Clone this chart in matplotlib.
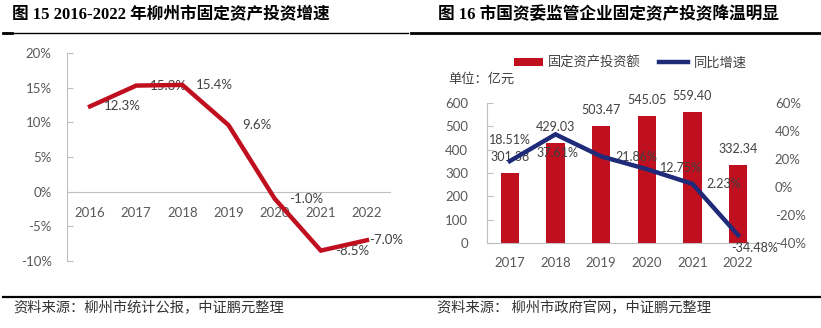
import matplotlib
matplotlib.use('Agg')
import matplotlib.pyplot as plt
from matplotlib.lines import Line2D
from matplotlib.patches import Patch
import numpy as np

# ---------------- data ----------------
years_left = ['2016', '2017', '2018', '2019', '2020', '2021', '2022']
growth_left = [12.3, 15.3, 15.4, 9.6, -1.0, -8.5, -7.0]
left_yticks = [-10, -5, 0, 5, 10, 15, 20]

years_right = ['2017', '2018', '2019', '2020', '2021', '2022']
invest = [301.38, 429.03, 503.47, 545.05, 559.40, 332.34]
yoy = [18.51, 37.61, 21.86, 12.75, 2.23, -34.48]
right_yticks = [0, 100, 200, 300, 400, 500, 600]
right_y2ticks = [-40, -20, 0, 20, 40, 60]

title_left = '图 15 2016-2022 年柳州市固定资产投资增速'
title_right = '图 16 市国资委监管企业固定资产投资降温明显'
source_left = '资料来源：柳州市统计公报，中证鹏元整理'
source_right = '资料来源： 柳州市政府官网，中证鹏元整理'
legend_labels = ['固定资产投资额', '同比增速']
unit_label = '单位：亿元'

# ---------------- style ----------------
plt.rcParams['font.family'] = ['Lato', 'Noto Sans CJK SC', 'DejaVu Sans']
plt.rcParams['axes.unicode_minus'] = False

RED = '#C00F1E'
NAVY = '#1F2A78'
GRID = '#BFBFBF'
TXT = '#595959'
LBL = '#404040'

W, H = 821, 328
fig = plt.figure(figsize=(W / 100, H / 100), dpi=100)


def fx(px):
    return px / W


def fy(py):
    return 1 - py / H


# ---------------- left chart ----------------
axL = fig.add_axes([fx(67), fy(261), (390 - 67) / W, (261 - 53) / H])
xl = np.arange(len(years_left))
axL.plot(xl, growth_left, color=RED, lw=3.2, solid_joinstyle='miter', zorder=3)
axL.set_xlim(-0.5, len(years_left) - 0.5)
axL.set_ylim(-10, 20)
axL.set_yticks(left_yticks)
axL.set_yticklabels([f'{v}%' for v in left_yticks])
axL.set_xticks(xl)
axL.set_xticklabels(years_left)
for s in ['top', 'right']:
    axL.spines[s].set_visible(False)
axL.spines['bottom'].set_position(('data', 0))
axL.spines['bottom'].set_color(GRID)
axL.spines['left'].set_color(GRID)
axL.tick_params(axis='x', length=0, pad=11, labelsize=9.5, labelcolor=TXT)
axL.tick_params(axis='y', direction='in', length=4, color=GRID, pad=11,
                labelsize=9.5, labelcolor=TXT)

left_offsets = [14, 14, 14, 14, 14, 14, 2]
for i, v in enumerate(growth_left):
    axL.annotate(f'{v:.1f}%', xy=(i, v), xytext=(left_offsets[i], 0),
                 textcoords='offset pixels', ha='left', va='center',
                 fontsize=9.5, color=LBL, zorder=1)

# ---------------- right chart ----------------
axR = fig.add_axes([fx(487), fy(243), (761 - 487) / W, (243 - 103) / H])
xr = np.arange(len(years_right))
axR.bar(xr, invest, width=0.4, color=RED)
axR.set_xlim(-0.5, len(years_right) - 0.5)
axR.set_ylim(0, 600)
axR.set_yticks(right_yticks)
axR.set_xticks(xr)
axR.set_xticklabels(years_right)
for s in ['top', 'right']:
    axR.spines[s].set_visible(False)
axR.spines['bottom'].set_color(GRID)
axR.spines['left'].set_color(GRID)
axR.tick_params(axis='x', length=0, pad=10, labelsize=9.5, labelcolor=TXT)
axR.tick_params(axis='y', direction='in', length=4, color=GRID, pad=13.5,
                labelsize=9.5, labelcolor=TXT)

axR2 = axR.twinx()
axR2.plot(xr, yoy, color=NAVY, lw=3.2, solid_joinstyle='miter', zorder=3)
axR2.set_ylim(-40, 60)
axR2.set_yticks(right_y2ticks)
axR2.set_yticklabels([f'{v}%' for v in right_y2ticks])
for s in ['top', 'right', 'left', 'bottom']:
    axR2.spines[s].set_visible(False)
axR2.tick_params(axis='y', length=0, pad=10, labelsize=9.5, labelcolor=TXT)

for i, v in enumerate(invest):
    axR2.annotate(f'{v:.2f}', xy=(i, v), xycoords=axR.transData,
                  xytext=(0, 16), textcoords='offset pixels',
                  ha='center', va='center', fontsize=9, color=LBL, zorder=1)

yoy_offsets = [(0, 21), (2, -19), (35, -1), (34, 1), (31, 0), (16, -13)]
for i, v in enumerate(yoy):
    axR2.annotate(f'{v:.2f}%', xy=(i, v), xytext=yoy_offsets[i],
                  textcoords='offset pixels', ha='center', va='center',
                  fontsize=9, color=LBL, zorder=1)

handles = [Patch(facecolor=RED, edgecolor='none'),
           Line2D([], [], color=NAVY, lw=3.2)]
fig.legend(handles, legend_labels, loc='center',
           bbox_to_anchor=(fx(630), fy(62)), ncol=2, frameon=False,
           handlelength=2.2, handleheight=0.6, handletextpad=0.4,
           columnspacing=1.4, fontsize=9.5, labelcolor=LBL)

fig.text(fx(448), fy(78), unit_label, ha='left', va='center',
         fontsize=9.5, color=LBL)

# ---------------- titles, rules, sources ----------------
title_font = ['Liberation Serif', 'Noto Sans CJK SC']
fig.text(fx(12), fy(15), title_left, ha='left', va='center', fontsize=12,
         fontweight='bold', family=title_font, color='black')
fig.text(fx(438), fy(15), title_right, ha='left', va='center', fontsize=12,
         fontweight='bold', family=title_font, color='black')

fig.add_artist(Line2D([fx(3), fx(408)], [fy(33), fy(33)], color='black', lw=1.0))
fig.add_artist(Line2D([fx(3), fx(12)], [fy(33), fy(33)], color='black', lw=2.0))
fig.add_artist(Line2D([fx(411), fx(820)], [fy(33), fy(33)], color='black', lw=2.0))
fig.add_artist(Line2D([fx(3), fx(820)], [fy(297), fy(297)], color='black', lw=1.6))

src_font = ['Noto Sans CJK SC', 'DejaVu Sans']
fig.text(fx(13), fy(308), source_left, ha='left', va='center', fontsize=10.3,
         family=src_font, color='#333333')
fig.text(fx(437), fy(308), source_right, ha='left', va='center', fontsize=10.3,
         family=src_font, color='#333333')

fig.savefig('out.png', dpi=100)
